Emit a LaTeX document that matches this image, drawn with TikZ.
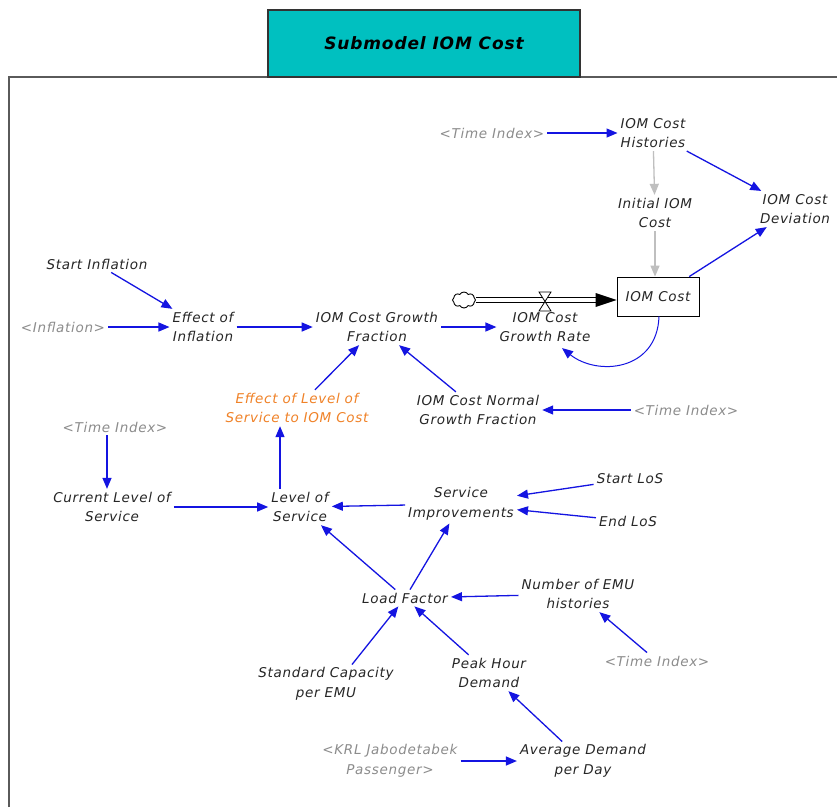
\documentclass[tikz,border=0pt]{standalone}
\usepackage{fontspec}
\setmainfont{DejaVu Sans}
\newfontfamily\labelfont[LetterSpace=5]{DejaVu Sans}
\newfontfamily\titlefont[LetterSpace=5]{DejaVu Sans}
\usetikzlibrary{arrows.meta,shapes.symbols}
\definecolor{linkblue}{RGB}{20,20,225}
\definecolor{shadowgray}{RGB}{140,140,140}
\definecolor{effectorange}{RGB}{240,130,40}
\definecolor{titleteal}{RGB}{0,192,192}
\definecolor{framegray}{RGB}{90,90,90}
\tikzset{
  var/.style={align=center, inner sep=3pt, font=\labelfont\fontsize{13.5}{19.5}\selectfont\itshape, text=black!85},
  shadow/.style={var, text=shadowgray},
  orangevar/.style={var, text=effectorange},
  level/.style={var, draw=black, line width=0.9pt, minimum width=82pt, minimum height=39pt, inner sep=0pt},
  link/.style={draw=linkblue, line width=1.3pt, -{Triangle[length=11pt,width=9pt]}},
  glink/.style={draw=black!25, line width=1.3pt, -{Triangle[length=11pt,width=9pt]}},
}
\begin{document}
\begin{tikzpicture}[x=1pt,y=-1pt]
\useasboundingbox (0,0) rectangle (837,807);
\fill[white] (0,0) rectangle (837,807);

% frame and title
\draw[framegray, line width=2pt] (9,807) -- (9,77) -- (837,77);
\node[draw=black!80, line width=1.8pt, fill=titleteal, minimum width=312pt, minimum height=67pt,
      font=\titlefont\fontsize{17}{19}\selectfont\bfseries\itshape] (title) at (424,43.5) {Submodel IOM Cost};

% variables
\node[shadow] (ti1) at (492,133) {<Time Index>};
\node[var] (hist) at (653,133) {IOM Cost\\Histories};
\node[var] (dev) at (795,209) {IOM Cost\\Deviation};
\node[var] (init) at (655,213) {Initial IOM\\Cost};
\node[level] (cost) at (658,296.5) {IOM Cost};
\node[cloud, draw=black, line width=0.9pt, cloud puffs=8, cloud puff arc=120, aspect=1.5,
      minimum width=23pt, minimum height=16pt, inner sep=0pt] (src) at (464,300) {};
\node[var] (rate) at (545,327) {IOM Cost\\Growth Rate};
\node[var] (sinf) at (97,264) {Start Inflation};
\node[shadow] (inf) at (63,327) {<Inflation>};
\node[var] (einf) at (203,327) {Effect of\\Inflation};
\node[var] (gf) at (377,327) {IOM Cost Growth\\Fraction};
\node[orangevar] (elos) at (297,408) {Effect of Level of\\Service to IOM Cost};
\node[var] (ngf) at (478,410) {IOM Cost Normal\\Growth Fraction};
\node[shadow] (ti2) at (686,410) {<Time Index>};
\node[shadow] (ti3) at (115,427) {<Time Index>};
\node[var] (clos) at (112,507) {Current Level of\\Service};
\node[var] (los) at (300,507) {Level of\\Service};
\node[var] (simp) at (461,504) {Service\\Improvements};
\node[var] (slos) at (630,479) {Start LoS};
\node[var] (elos2) at (628,521) {End LoS};
\node[var] (load) at (405,598) {Load Factor};
\node[var] (emu) at (578,594) {Number of EMU\\histories};
\node[shadow] (ti4) at (657,661) {<Time Index>};
\node[var] (cap) at (326,684) {Standard Capacity\\per EMU};
\node[var] (peak) at (489,673) {Peak Hour\\Demand};
\node[shadow] (krl) at (390,761) {<KRL Jabodetabek\\Passenger>};
\node[var] (avg) at (583,761) {Average Demand\\per Day};

% flow pipe into the stock
\coordinate (valve) at (545,301);
\draw[black, line width=1pt, double=white, double distance=4.5pt] (src.east) -- ([xshift=-18pt]cost.west |- src.east);
\fill[black] ([xshift=-21pt,yshift=7pt]cost.west |- src.east) -- (cost.west |- src.east)
             -- ([xshift=-21pt,yshift=-7pt]cost.west |- src.east) -- cycle;
\draw[black, line width=0.8pt, fill=white] ([xshift=-6pt,yshift=9pt]valve) -- ([xshift=6pt,yshift=9pt]valve)
      -- ([xshift=-6pt,yshift=-10pt]valve) -- ([xshift=6pt,yshift=-10pt]valve) -- cycle;

% information links
\draw[link] (ti1) -- (hist);
\draw[link] (hist) -- (dev);
\draw[glink] (hist) -- (init);
\draw[glink] (init) -- (init |- cost.north);
\draw[link] (cost) -- (dev);
\draw[link, line width=1pt] ([xshift=1pt]cost.south) .. controls +(-2,55) and +(35,28) .. ([xshift=17pt,yshift=-3pt]rate.south);
\draw[link] (sinf) -- (einf);
\draw[link] (inf) -- (einf);
\draw[link] (einf) -- (gf);
\draw[link] (gf) -- (rate);
\draw[link] (elos) -- (gf);
\draw[link] (ngf) -- (gf);
\draw[link] (ti2) -- (ngf);
\draw[link] ([xshift=-8pt]ti3.south) -- ([xshift=-5pt]clos.north);
\draw[link] (clos) -- (los);
\draw[link] ([xshift=-20pt]los.north) -- ([xshift=-17pt]elos.south);
\draw[link] (simp) -- (los);
\draw[link] (slos) -- (simp);
\draw[link] (elos2) -- (simp);
\draw[link] (load) -- (simp);
\draw[link] (load) -- (los);
\draw[link] (emu) -- (load);
\draw[link] (ti4) -- (emu);
\draw[link] ([xshift=26pt]cap.north) -- (load);
\draw[link] (peak) -- (load);
\draw[link] (avg) -- (peak);
\draw[link] (krl) -- (avg);
\end{tikzpicture}
\end{document}
